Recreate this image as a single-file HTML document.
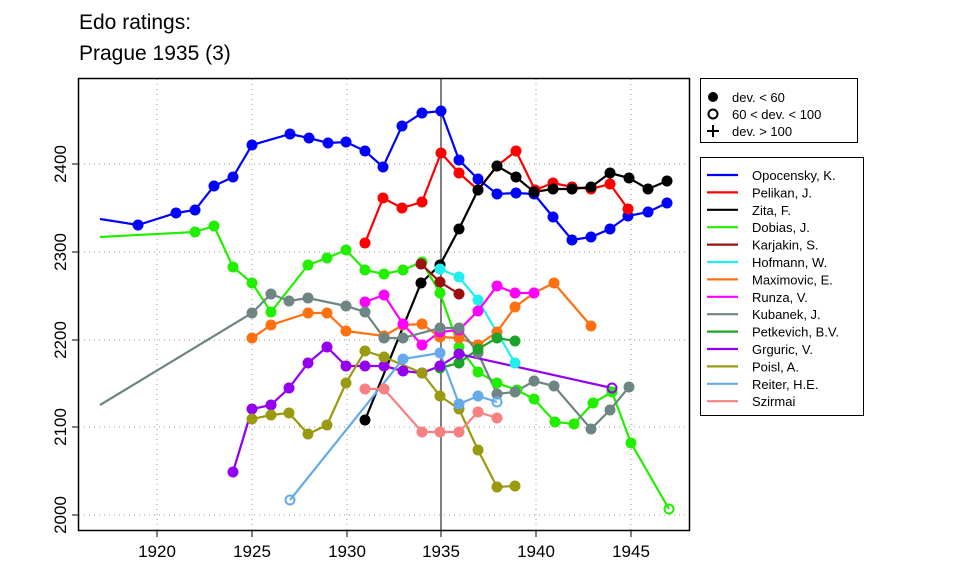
<!DOCTYPE html>
<html><head><meta charset="utf-8"><style>body{margin:0;background:#fff}svg{display:block;font-family:"Liberation Sans",sans-serif}</style></head><body>
<svg width="960" height="576" viewBox="0 0 960 576" xmlns="http://www.w3.org/2000/svg">
<text x="79" y="29" font-size="21">Edo ratings:</text>
<text x="79" y="60" font-size="21">Prague 1935 (3)</text>
<g stroke="#999" stroke-width="1" stroke-dasharray="1,4">
<line x1="157" y1="79" x2="157" y2="530"/><line x1="252" y1="79" x2="252" y2="530"/><line x1="347" y1="79" x2="347" y2="530"/><line x1="536" y1="79" x2="536" y2="530"/><line x1="631" y1="79" x2="631" y2="530"/>
<line x1="79" y1="164" x2="689" y2="164"/><line x1="79" y1="252" x2="689" y2="252"/><line x1="79" y1="340" x2="689" y2="340"/><line x1="79" y1="427" x2="689" y2="427"/><line x1="79" y1="515" x2="689" y2="515"/>
</g>
<line x1="441" y1="79" x2="441" y2="530" stroke="#000" stroke-width="1"/>
<g fill="none" stroke-width="2.2">
<polyline stroke="#0000ff" points="100,219 138,225 176,213 195,210 214,186 233,177 252,145 290,134 309,138 328,143 346,142 365,151 383,167 402,126 422,113 441,111 459,160 478,179 497,194 516,193 534,194 553,217 572,240 591,237 610,229 628,216 648,212 667,203"/>
<polyline stroke="#ff0000" points="365,243 383,198 402,208 422,202 441,153 459,173 478,190 497,166 516,151 535,190 553,183 572,187 591,189 610,184 628,209"/>
<polyline stroke="#000" points="365,420 421,283 440,265 459,229 478,190 497,166 516,177 534,192 553,189 572,189 591,187 610,173 629,178 648,189 667,181"/>
<polyline stroke="#22ee00" points="100,237 195,232 214,226 233,267 252,283 271,312 308,265 327,258 346,250 365,270 384,274 403,270 422,262 440,293 459,347 478,372 497,383 517,390 534,399 555,422 574,424 593,403 612,392 631,443 669,509"/>
<polyline stroke="#991111" points="421,264 440,282 459,294"/>
<polyline stroke="#22eeee" points="440,269 459,277 478,300 515,363"/>
<polyline stroke="#ff7010" points="252,338 271,325 308,313 327,313 346,331 384,336 403,325 422,324 440,337 459,338 478,345 497,332 515,307 534,293 554,283 591,326"/>
<polyline stroke="#ff00ff" points="365,302 384,295 403,324 422,345 440,332 459,330 478,311 497,286 515,293 534,293"/>
<polyline stroke="#6f8585" points="100,405 252,313 271,294 289,301 308,298 346,306 365,312 384,338 403,338 440,328 459,328 478,353 497,394 515,392 534,381 554,386 591,429 610,410 629,387"/>
<polyline stroke="#1aa52a" points="440,368 459,363 478,349 497,338 515,341"/>
<polyline stroke="#9400ee" points="233,472 252,409 271,405 289,388 308,363 327,347 346,366 365,366 384,366 403,371 422,373 440,366 459,354 612,388"/>
<polyline stroke="#9a9a10" points="252,419 271,415 289,413 308,434 327,425 346,383 365,351 384,357 422,373 440,396 459,409 478,450 497,487 515,486"/>
<polyline stroke="#66aaee" points="290,500 403,359 440,353 459,404 478,396 497,402"/>
<polyline stroke="#f88080" points="365,389 384,389 422,432 440,432 459,432 478,412 497,418"/>
</g>
<g id="dots"></g>
<rect x="78.5" y="78.5" width="611" height="452" fill="none" stroke="#000" stroke-width="1.5"/>
<g stroke="#000" stroke-width="1">
<line x1="157" y1="531" x2="157" y2="537"/><line x1="252" y1="531" x2="252" y2="537"/><line x1="347" y1="531" x2="347" y2="537"/><line x1="441" y1="531" x2="441" y2="537"/><line x1="536" y1="531" x2="536" y2="537"/><line x1="631" y1="531" x2="631" y2="537"/>
<line x1="72" y1="164" x2="78" y2="164"/><line x1="72" y1="252" x2="78" y2="252"/><line x1="72" y1="340" x2="78" y2="340"/><line x1="72" y1="427" x2="78" y2="427"/><line x1="72" y1="515" x2="78" y2="515"/>
</g>
<g font-size="17" text-anchor="middle">
<text x="157" y="557">1920</text><text x="252" y="557">1925</text><text x="347" y="557">1930</text><text x="441" y="557">1935</text><text x="536" y="557">1940</text><text x="631" y="557">1945</text>
<text transform="translate(66,164) rotate(-90)">2400</text><text transform="translate(66,252) rotate(-90)">2300</text><text transform="translate(66,340) rotate(-90)">2200</text><text transform="translate(66,427) rotate(-90)">2100</text><text transform="translate(66,515) rotate(-90)">2000</text>
</g>
<rect x="700.5" y="78.5" width="157" height="64" fill="#fff" stroke="#000"/>
<circle cx="713" cy="97" r="5"/><circle cx="713" cy="114" r="4.5" fill="none" stroke="#000" stroke-width="2"/>
<path d="M707 131h12M713 125v12" stroke="#000" stroke-width="2"/>
<g font-size="13"><text x="732" y="102">dev. &lt; 60</text><text x="732" y="119">60 &lt; dev. &lt; 100</text><text x="732" y="136">dev. &gt; 100</text></g>
<rect x="700.5" y="157.5" width="163" height="258" fill="#fff" stroke="#000"/>
<g id="leg" stroke-width="2.2" font-size="13"></g>
<script>
const ns="http://www.w3.org/2000/svg";
const S=[["Opocensky, K.","#0000ff"],["Pelikan, J.","#ff0000"],["Zita, F.","#000"],["Dobias, J.","#22ee00"],["Karjakin, S.","#991111"],["Hofmann, W.","#22eeee"],["Maximovic, E.","#ff7010"],["Runza, V.","#ff00ff"],["Kubanek, J.","#6f8585"],["Petkevich, B.V.","#1aa52a"],["Grguric, V.","#9400ee"],["Poisl, A.","#9a9a10"],["Reiter, H.E.","#66aaee"],["Szirmai","#f88080"]];
const leg=document.getElementById('leg');
S.forEach((s,i)=>{const y=175+i*17.4;
const l=document.createElementNS(ns,'line');l.setAttribute('x1',707);l.setAttribute('x2',738);l.setAttribute('y1',y);l.setAttribute('y2',y);l.setAttribute('stroke',s[1]);leg.appendChild(l);
const t=document.createElementNS(ns,'text');t.setAttribute('x',752);t.setAttribute('y',y+5);t.textContent=s[0];leg.appendChild(t);});
const dots=document.getElementById('dots');
document.querySelectorAll('polyline').forEach((p,k)=>{const c=p.getAttribute('stroke');
p.getAttribute('points').trim().split(/\s+/).forEach((pt,j,arr)=>{const [x,y]=pt.split(',').map(Number);
if(x===100)return;
const open=(k===3&&j===arr.length-1)||(k===12&&(j===0||j===arr.length-1))||(k===10&&j===arr.length-1);
const e=document.createElementNS(ns,'circle');e.setAttribute('cx',x);e.setAttribute('cy',y);
if(open){e.setAttribute('r',4.5);e.setAttribute('fill','none');e.setAttribute('stroke',c);e.setAttribute('stroke-width',2);}
else{e.setAttribute('r',5.5);e.setAttribute('fill',c);}
dots.appendChild(e);});});
</script>
</svg>
</body></html>
